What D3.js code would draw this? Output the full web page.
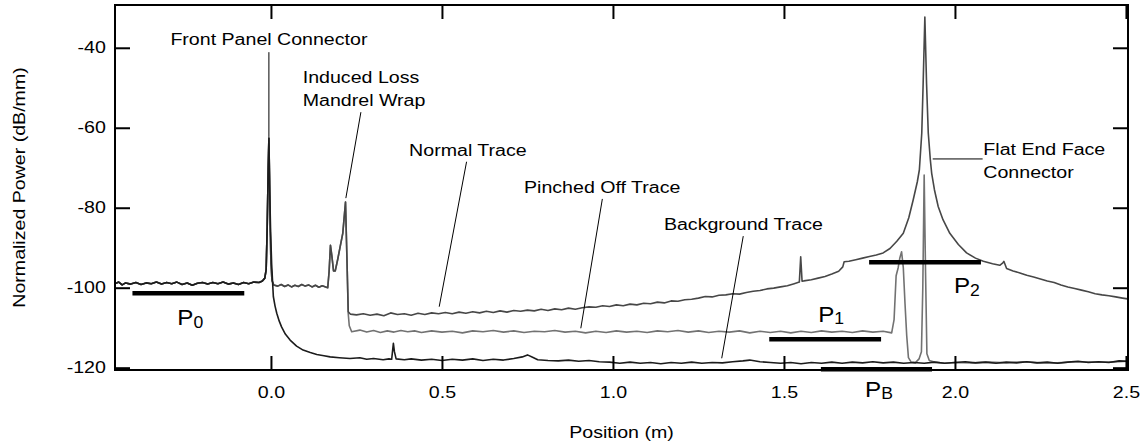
<!DOCTYPE html>
<html><head><meta charset="utf-8">
<script src="https://cdn.jsdelivr.net/npm/d3@7"></script>
<style>
body{margin:0;background:#fff;}
text{font-family:"Liberation Sans",Arial,Helvetica,sans-serif;fill:#000;}
</style>
</head><body>
<svg id="c" width="1143" height="446"></svg>
<script>
// ---------------- data (position in m, normalized power in dB/mm) ----------------
const xTicks = [0, 0.5, 1.0, 1.5, 2.0, 2.5];
const yTicks = [-120, -100, -80, -60, -40];
const yTickLabels = ["-120", "-100", "-80", "-60", "-40"];

// shared by all three traces up to the front panel connector peak
const leadIn = [[-0.456,-99.0],[-0.445,-98.6],[-0.435,-99.3],[-0.425,-98.8],[-0.41,-99.1],[-0.395,-98.7],
 [-0.38,-99.2],[-0.365,-98.8],[-0.35,-99.0],[-0.335,-98.6],[-0.32,-99.1],[-0.305,-98.7],[-0.29,-99.0],
 [-0.275,-98.6],[-0.26,-99.2],[-0.245,-98.8],[-0.23,-99.4],[-0.215,-98.9],[-0.2,-98.7],[-0.185,-99.1],
 [-0.17,-98.7],[-0.155,-99.0],[-0.14,-98.6],[-0.125,-99.1],[-0.11,-98.8],[-0.095,-99.2],[-0.08,-98.7],
 [-0.065,-99.0],[-0.05,-98.6],[-0.035,-98.7],[-0.025,-98.3],[-0.018,-97.6],[-0.014,-95.5],[-0.011,-85],
 [-0.008,-70],[-0.006,-62.6]];

// shared by normal and pinched traces, up to the mandrel wrap peak
const grayMid = [[-0.004,-73],[-0.002,-86],[0.0,-94],[0.003,-98.2],[0.008,-99.3],[0.02,-99.6],[0.03,-99.2],
 [0.04,-99.7],[0.05,-99.3],[0.06,-99.8],[0.07,-99.4],[0.08,-99.7],[0.09,-99.2],[0.1,-99.6],[0.11,-99.3],
 [0.12,-99.8],[0.13,-99.4],[0.14,-99.9],[0.15,-99.5],[0.16,-99.8],[0.166,-100.0],[0.17,-96],[0.174,-89.4],
 [0.178,-92],[0.183,-95.8],[0.188,-95.8],[0.195,-93],[0.203,-89.5],[0.21,-86.4],[0.218,-78.6]];

const normalTail = [[0.222,-92],[0.226,-106],[0.232,-106.6],[0.25,-106.8],[0.27,-106.5],[0.29,-106.9],
 [0.31,-106.6],[0.33,-107.0],[0.35,-106.3],[0.37,-106.7],[0.39,-106.5],[0.41,-106.9],[0.43,-106.4],
 [0.45,-106.7],[0.47,-106.3],[0.49,-106.5],[0.51,-106.2],[0.53,-106.5],[0.55,-106.1],[0.57,-106.4],
 [0.59,-106.0],[0.61,-106.3],[0.63,-105.9],[0.65,-106.2],[0.67,-105.8],[0.69,-106.1],[0.71,-105.7],
 [0.73,-105.9],[0.75,-105.6],[0.77,-105.8],[0.79,-105.4],[0.81,-105.7],[0.83,-105.3],[0.85,-105.5],
 [0.87,-105.1],[0.89,-105.4],[0.91,-105.0],[0.93,-104.8],[0.95,-104.9],[0.97,-104.5],[0.99,-104.7],
 [1.01,-104.3],[1.03,-104.5],[1.05,-104.1],[1.07,-104.3],[1.09,-103.9],[1.11,-104.0],[1.13,-103.6],
 [1.15,-103.8],[1.17,-103.3],[1.19,-103.4],[1.21,-103.0],[1.23,-102.9],[1.25,-102.6],[1.27,-102.2],
 [1.29,-102.3],[1.31,-101.9],[1.33,-101.8],[1.35,-101.5],[1.37,-101.6],[1.39,-101.2],[1.41,-100.9],
 [1.43,-100.7],[1.45,-100.3],[1.47,-100.1],[1.49,-99.8],[1.51,-99.5],[1.53,-99.0],[1.545,-98.6],
 [1.549,-92.3],[1.553,-98.4],[1.558,-98.3],[1.58,-98.0],[1.60,-97.6],[1.62,-97.2],[1.64,-96.6],
 [1.66,-95.9],[1.672,-94.8],[1.676,-93.5],[1.69,-93.4],[1.71,-93.0],[1.73,-92.6],[1.75,-92.2],
 [1.77,-91.8],[1.79,-91.3],[1.81,-90.2],[1.83,-88.4],[1.849,-86.4],[1.865,-82.5],[1.878,-78.0],
 [1.89,-73.5],[1.896,-70.5],[1.903,-61.3],[1.907,-49],[1.912,-32.3],[1.917,-49],[1.922,-61.3],
 [1.928,-68],[1.932,-71.4],[1.94,-75.5],[1.951,-79.7],[1.965,-83],[1.985,-86.4],[2.01,-89.2],
 [2.034,-91.3],[2.06,-92.6],[2.083,-93.4],[2.11,-94.0],[2.131,-94.4],[2.14,-93.8],[2.143,-93.4],
 [2.151,-95.2],[2.17,-95.8],[2.19,-96.3],[2.21,-96.9],[2.23,-97.3],[2.25,-97.8],[2.27,-98.3],
 [2.29,-98.7],[2.31,-99.3],[2.33,-99.8],[2.35,-100.2],[2.37,-100.6],[2.39,-101.0],[2.41,-101.5],
 [2.43,-101.8],[2.45,-102.0],[2.47,-102.3],[2.49,-102.6],[2.505,-102.8]];

const pinchedTail = [[0.222,-92],[0.226,-106.5],[0.229,-109.5],[0.236,-111.0],[0.26,-110.6],[0.28,-111.1],
 [0.3,-110.7],[0.32,-111.2],[0.34,-110.8],[0.36,-111.1],[0.38,-110.7],[0.40,-111.0],[0.42,-110.8],
 [0.44,-111.2],[0.47,-110.8],[0.5,-111.1],[0.53,-110.9],[0.56,-111.3],[0.59,-110.8],[0.62,-111.0],
 [0.65,-110.7],[0.68,-111.1],[0.71,-110.8],[0.74,-111.2],[0.77,-110.9],[0.8,-111.0],[0.83,-110.7],
 [0.86,-111.1],[0.89,-110.9],[0.92,-111.3],[0.95,-110.9],[0.98,-111.2],[1.01,-110.8],[1.04,-111.1],
 [1.07,-110.9],[1.1,-111.2],[1.13,-110.8],[1.16,-111.0],[1.19,-110.7],[1.22,-111.1],[1.25,-110.8],
 [1.28,-111.2],[1.31,-110.9],[1.34,-111.1],[1.37,-110.8],[1.4,-111.3],[1.43,-110.9],[1.46,-111.2],
 [1.49,-110.9],[1.52,-111.3],[1.55,-110.9],[1.58,-111.2],[1.61,-110.8],[1.64,-111.1],[1.67,-110.9],
 [1.7,-111.2],[1.73,-110.8],[1.76,-111.1],[1.79,-110.9],[1.815,-111.3],[1.822,-108],[1.828,-97],
 [1.834,-95],[1.839,-92.5],[1.844,-91.0],[1.849,-95],[1.854,-104],[1.859,-112],[1.864,-117.5],
 [1.872,-118.6],[1.884,-118.8],[1.895,-117.8],[1.902,-116],[1.906,-100],[1.91,-71.8],[1.914,-96],
 [1.918,-116.5],[1.925,-118.2],[1.94,-118.6],[1.97,-118.9],[2.0,-118.7],[2.05,-118.8],[2.1,-118.6],
 [2.15,-118.8],[2.2,-118.5],[2.25,-118.8],[2.3,-118.8],[2.35,-118.5],[2.4,-118.6],[2.45,-118.6],[2.505,-118.4]];

const backgroundTail = [[-0.004,-74],[-0.001,-86],[0.002,-94],[0.007,-102.2],[0.012,-104.6],[0.017,-106.4],
 [0.024,-108.3],[0.031,-109.8],[0.042,-111.6],[0.056,-113.1],[0.075,-114.6],[0.094,-115.6],[0.115,-116.2],
 [0.134,-116.7],[0.155,-117.0],[0.173,-117.3],[0.2,-117.5],[0.231,-117.7],[0.26,-117.5],[0.28,-117.9],
 [0.3,-117.7],[0.328,-118.0],[0.345,-117.8],[0.353,-117.9],[0.356,-115.5],[0.358,-113.9],[0.361,-116],
 [0.366,-117.8],[0.39,-118.0],[0.41,-117.8],[0.44,-118.1],[0.47,-117.9],[0.5,-118.2],[0.53,-117.9],
 [0.56,-118.1],[0.59,-117.8],[0.62,-118.2],[0.65,-117.9],[0.68,-118.1],[0.71,-117.7],[0.735,-117.3],
 [0.75,-116.8],[0.765,-117.4],[0.78,-118.0],[0.81,-118.2],[0.84,-118.3],[0.87,-118.1],[0.9,-118.4],
 [0.93,-118.2],[0.96,-118.5],[0.99,-118.6],[1.02,-118.9],[1.05,-118.6],[1.08,-118.9],[1.11,-118.7],
 [1.14,-119.0],[1.17,-118.7],[1.2,-118.9],[1.23,-118.6],[1.26,-118.9],[1.29,-118.7],[1.32,-118.8],
 [1.35,-118.5],[1.38,-118.3],[1.40,-118.1],[1.43,-118.5],[1.46,-118.7],[1.49,-118.9],[1.52,-118.7],
 [1.55,-119.0],[1.58,-118.7],[1.61,-118.9],[1.64,-118.6],[1.67,-118.9],[1.7,-118.6],[1.73,-118.8],
 [1.76,-118.5],[1.79,-118.8],[1.82,-118.6],[1.85,-118.9],[1.88,-118.7],[1.91,-118.9],[1.94,-118.6],
 [1.97,-118.9],[2.0,-118.7],[2.03,-118.5],[2.06,-118.8],[2.09,-118.6],[2.12,-118.9],[2.15,-118.6],
 [2.18,-118.8],[2.21,-118.5],[2.24,-118.8],[2.27,-118.6],[2.3,-118.9],[2.33,-118.6],[2.36,-118.4],
 [2.39,-118.7],[2.42,-118.5],[2.45,-118.7],[2.48,-118.3],[2.505,-118.4]];

const normalTrace = leadIn.concat(grayMid, normalTail);
const pinchedTrace = leadIn.concat(grayMid, pinchedTail);
const backgroundTrace = leadIn.concat(backgroundTail);

// power level bars: [label, subscript, x0, x1, level]
const barNames = ["P", "P", "P", "P"];
const barSubs = ["0", "1", "2", "B"];
const barStart = [-0.405, 1.457, 1.749, 1.608];
const barEnd = [-0.078, 1.784, 2.076, 1.933];
const barLevel = [-101.4, -112.9, -93.65, -120.4];
const barLabelX = [-0.274, 1.600, 1.997, 1.737];
const barLabelY = [-109.4, -108.5, -101.4, -127.25];

// annotations
const noteLines = [["Front Panel Connector"], ["Induced Loss", "Mandrel Wrap"], ["Normal Trace"],
  ["Pinched Off Trace"], ["Background Trace"], ["Flat End Face", "Connector"]];
const noteX = [-0.006, 0.093, 0.404, 0.74, 1.149, 2.083];
const noteY = [-39.3, -48.9, -67.0, -76.2, -85.6, -66.8];
const noteAnchor = ["middle", "start", "start", "start", "start", "start"];
const leaderFrom = [[-0.006, -41.1], [0.263, -56.1], [0.572, -68.5], [0.969, -77.8], [1.381, -87.1], [2.081, -67.8]];
const leaderTo = [[-0.006, -62.3], [0.219, -77.6], [0.492, -104.75], [0.906, -110.15], [1.318, -117.65], [1.935, -67.8]];

// ---------------- drawing ----------------
const SX = 1.225; // horizontal text stretch of the original figure
const svg = d3.select("#c");
const L = 115, R = 1128, T = 5, B = 370;
const x = d3.scaleLinear().domain([-0.456, 2.506]).range([L, R]);
const y = d3.scaleLinear().domain([-120.58, -29.3]).range([B, T]);

const line = d3.line().x(d => x(d[0])).y(d => y(d[1]));

// traces
const traces = [
  {data: pinchedTrace, color: "#727272"},
  {data: normalTrace, color: "#474747"},
  {data: backgroundTrace, color: "#1c1c1c"}
];
svg.append("g").selectAll("path").data(traces).join("path")
  .attr("d", d => line(d.data)).attr("fill", "none")
  .attr("stroke", d => d.color).attr("stroke-width", 1.6).attr("stroke-linejoin", "round");

// axes
function styleAxis(g) {
  g.select(".domain").remove();
  g.selectAll(".tick line").attr("stroke", "#000").attr("stroke-width", 2);
  g.selectAll("text").attr("font-size", 16).attr("fill", "#000")
    .attr("font-family", '"Liberation Sans",Arial,Helvetica,sans-serif')
    .attr("transform", `scale(${SX},1)`);
}
svg.append("g").attr("transform", `translate(${L},0)`)
  .call(d3.axisLeft(y).tickValues(yTicks).tickSize(-15).tickPadding(7.5)
    .tickFormat((d, i) => yTickLabels[i])).call(styleAxis);
svg.append("g").attr("transform", `translate(${R},0)`)
  .call(d3.axisRight(y).tickValues(yTicks).tickSize(-15).tickFormat("")).call(styleAxis);
svg.append("g").attr("transform", `translate(0,${B})`)
  .call(d3.axisBottom(x).tickValues(xTicks).tickSize(-14).tickPadding(17)
    .tickFormat(d3.format(".1f"))).call(styleAxis);
svg.append("g").attr("transform", `translate(0,${T})`)
  .call(d3.axisTop(x).tickValues(xTicks).tickSize(-14).tickFormat("")).call(styleAxis);

svg.append("rect").attr("x", L).attr("y", T).attr("width", R - L).attr("height", B - T)
  .attr("fill", "none").attr("stroke", "#000").attr("stroke-width", 2);

// axis titles
svg.append("text").attr("transform", `translate(${(L + R) / 2},438) scale(${SX},1)`)
  .attr("text-anchor", "middle").attr("font-size", 16).text("Position (m)");
svg.append("text").attr("transform", `translate(25,${(T + B) / 2}) rotate(-90) scale(${SX},1)`)
  .attr("text-anchor", "middle").attr("font-size", 16).text("Normalized Power (dB/mm)");

// level bars
const bars = barStart.map((s, i) => ({s, e: barEnd[i], v: barLevel[i], n: barNames[i], sub: barSubs[i], lx: barLabelX[i], ly: barLabelY[i]}));
svg.append("g").selectAll("line").data(bars).join("line")
  .attr("x1", d => x(d.s)).attr("x2", d => x(d.e))
  .attr("y1", d => y(d.v)).attr("y2", d => y(d.v))
  .attr("stroke", "#000").attr("stroke-width", 4.5);
const pl = svg.append("g").selectAll("text").data(bars).join("text")
  .attr("transform", d => `translate(${x(d.lx)},${y(d.ly)}) scale(1.1,1)`)
  .attr("font-size", 22);
pl.append("tspan").text(d => d.n);
pl.append("tspan").attr("font-size", 16).attr("dy", 2.5).text(d => d.sub);

// leader lines
svg.append("g").selectAll("line").data(leaderFrom).join("line")
  .attr("x1", d => x(d[0])).attr("y1", d => y(d[1]))
  .attr("x2", (d, i) => x(leaderTo[i][0])).attr("y2", (d, i) => y(leaderTo[i][1]))
  .attr("stroke", "#000").attr("stroke-width", 1);

// annotation texts
noteLines.forEach((lines, i) => {
  lines.forEach((t, j) => {
    svg.append("text")
      .attr("transform", `translate(${x(noteX[i])},${y(noteY[i]) + j * 23}) scale(${SX},1)`)
      .attr("text-anchor", noteAnchor[i]).attr("font-size", 16).text(t);
  });
});
</script>
</body></html>
